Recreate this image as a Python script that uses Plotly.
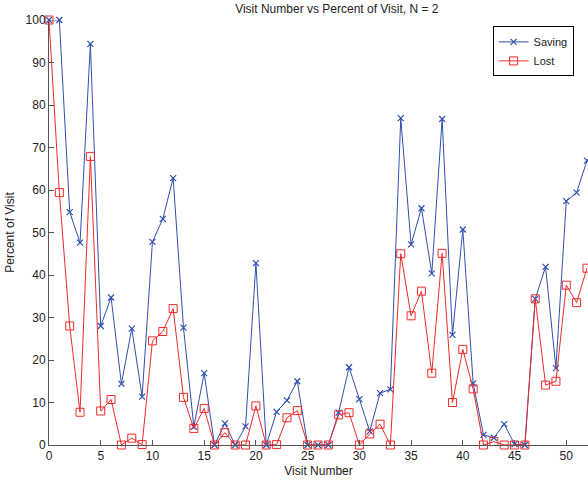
import plotly.graph_objects as go

visit = list(range(0, 53))
saving = [100, 100, 54.8, 47.6, 94.4, 28, 34.7, 14.4, 27.4, 11.4,
          47.8, 53.2, 62.8, 27.6, 4.3, 16.9, 0, 5.1, 0, 4.4,
          42.8, 0, 7.8, 10.5, 15, 0, 0, 0, 7.6, 18.3,
          10.8, 3.2, 12.2, 13.1, 76.9, 47.2, 55.7, 40.4, 76.7, 25.9,
          50.7, 14.5, 2.4, 1.7, 4.9, 0.2, 0, 34.4, 41.9, 18.1,
          57.4, 59.4, 66.9]
lost = [100, 59.4, 28, 7.7, 67.9, 8, 10.7, 0, 1.6, 0.1,
        24.5, 26.7, 32.1, 11.2, 3.9, 8.6, 0, 2.9, 0, 0,
        9.2, 0, 0.1, 6.4, 8.1, 0, 0, 0, 7.1, 7.6,
        0, 2.6, 4.9, 0, 45, 30.4, 36.2, 16.9, 45.1, 10,
        22.5, 13.2, 0, 0.8, 0, 0, 0, 34.4, 14.1, 15,
        37.6, 33.5, 41.6]

x_ticks = list(range(0, 55, 5))
y_ticks = list(range(0, 110, 10))

blue = "#2f4fb0"
red = "#f02a2a"

fig = go.Figure()
fig.add_trace(go.Scatter(
    x=visit, y=saving, name="Saving", mode="lines+markers",
    line=dict(color=blue, width=1),
    marker=dict(symbol="x-thin", size=6, line=dict(color=blue, width=1.2), color=blue),
    cliponaxis=False))
fig.add_trace(go.Scatter(
    x=visit, y=lost, name="Lost", mode="lines+markers",
    line=dict(color=red, width=1),
    marker=dict(symbol="square-open", size=8, line=dict(color=red, width=1), color=red),
    cliponaxis=False))

font_family = "Liberation Sans, Arial, Helvetica, sans-serif"
fig.update_layout(
    width=588, height=486,
    margin=dict(l=49, r=0, t=20, b=41),
    paper_bgcolor="white", plot_bgcolor="white",
    font=dict(family=font_family, size=12, color="#222222"),
    title=dict(text="Visit Number vs Percent of Visit, N = 2",
               x=0.534, xref="paper", xanchor="center",
               y=1 - 9 / 486, yref="container", yanchor="middle",
               font=dict(size=12, color="#222222")),
    showlegend=True,
    legend=dict(x=0.823, y=0.985, xanchor="left", yanchor="top",
                bordercolor="black", borderwidth=1, bgcolor="white",
                font=dict(size=11, color="#222222"),
                tracegroupgap=0, itemwidth=30),
    xaxis=dict(range=[0, 52.1], tickvals=x_ticks, ticks="inside", ticklen=5,
               tickcolor="#555555", showline=True, linecolor="#555555",
               linewidth=1, showgrid=False, zeroline=False, mirror=False,
               title=dict(text="Visit Number", standoff=4, font=dict(size=12)),
               tickfont=dict(size=12)),
    yaxis=dict(range=[0, 100], tickvals=y_ticks, ticks="inside", ticklen=5,
               tickcolor="#555555", showline=True, linecolor="#555555",
               linewidth=1, showgrid=False, zeroline=False, mirror=False,
               title=dict(text="Percent of Visit", standoff=8, font=dict(size=12)),
               tickfont=dict(size=12)),
)

fig.write_html("out.html")
